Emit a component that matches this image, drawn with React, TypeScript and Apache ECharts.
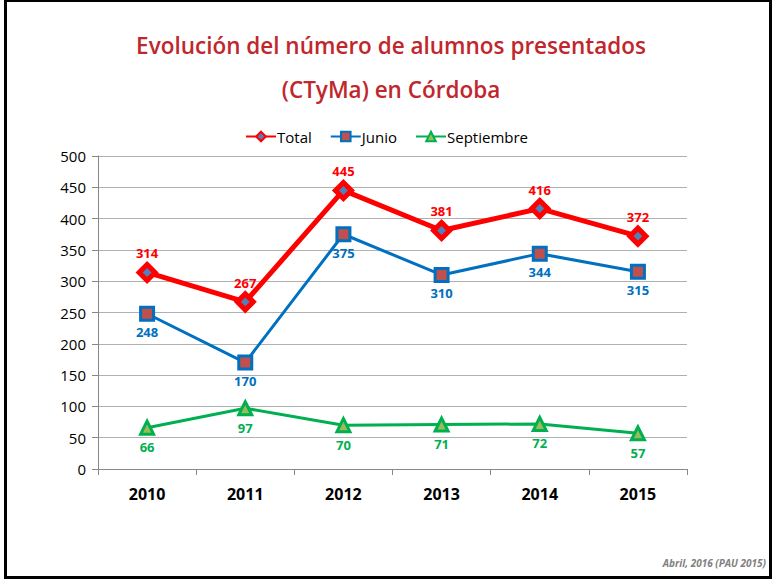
import React, { useEffect, useRef } from "react";
import * as echarts from "echarts";

const years = ["2010", "2011", "2012", "2013", "2014", "2015"];
const total = [314, 267, 445, 381, 416, 372];
const junio = [248, 170, 375, 310, 344, 315];
const septiembre = [66, 97, 70, 71, 72, 57];
const titleLines = ["Evolución del número de alumnos presentados", "(CTyMa) en Córdoba"];
const footnote = "Abril, 2016 (PAU 2015)";

const FONT = "Open Sans, Lato, sans-serif";

export default function App() {
  const ref = useRef<HTMLDivElement>(null);
  useEffect(() => {
    const chart = echarts.init(ref.current!, null, { renderer: "svg" });
    chart.setOption({
      animation: false,
      backgroundColor: "#fff",
      textStyle: { fontFamily: FONT },
      graphic: [
        {
          type: "rect",
          shape: { x: 5.5, y: 0.5, width: 765, height: 577 },
          style: { fill: "none", stroke: "#000", lineWidth: 3 },
          silent: true,
        },
        {
          type: "text",
          x: 391,
          y: 45,
          style: {
            text: titleLines[0],
            fill: "#C0272D",
            font: `600 22.5px ${FONT}`,
            align: "center",
            verticalAlign: "middle",
          },
        },
        {
          type: "text",
          x: 391,
          y: 89,
          style: {
            text: titleLines[1],
            fill: "#C0272D",
            font: `600 22.5px ${FONT}`,
            align: "center",
            verticalAlign: "middle",
          },
        },
        {
          type: "text",
          x: 766,
          y: 563,
          style: {
            text: footnote,
            fill: "#7F7F7F",
            font: `italic bold 10px ${FONT}`,
            align: "right",
            verticalAlign: "middle",
          },
        },
      ],
      legend: {
        top: 124,
        left: "center",
        itemWidth: 30,
        itemHeight: 12,
        itemGap: 18,
        textStyle: { fontSize: 15, color: "#000", fontFamily: FONT, padding: [0, 0, 0, -4] },
        data: ["Total", "Junio", "Septiembre"],
      },
      grid: { left: 98, right: 86, top: 156, bottom: 112 },
      xAxis: {
        type: "category",
        data: years,
        boundaryGap: true,
        axisLine: { lineStyle: { color: "#888", width: 1 } },
        axisTick: { show: true, length: 6, lineStyle: { color: "#888" } },
        axisLabel: { fontSize: 16, fontWeight: "bold", color: "#000", margin: 17 },
      },
      yAxis: {
        type: "value",
        min: 0,
        max: 500,
        interval: 50,
        axisLine: { show: true, lineStyle: { color: "#888" } },
        axisTick: { show: true, length: 6, lineStyle: { color: "#888" } },
        axisLabel: { fontSize: 15, color: "#000", margin: 12 },
        splitLine: { lineStyle: { color: "#B0B0B0", width: 1 } },
      },
      series: [
        {
          name: "Total",
          type: "line",
          data: total,
          symbol: "diamond",
          symbolSize: 16,
          lineStyle: { color: "#FF0000", width: 5 },
          itemStyle: { color: "#4F81BD", borderColor: "#FF0000", borderWidth: 5 },
          label: {
            show: true,
            position: "top",
            distance: 2,
            color: "#FF0000",
            fontWeight: "bold",
            fontSize: 13,
          },
          z: 3,
        },
        {
          name: "Junio",
          type: "line",
          data: junio,
          symbol: "rect",
          symbolSize: 13,
          lineStyle: { color: "#0070C0", width: 3 },
          itemStyle: { color: "#C0504D", borderColor: "#0070C0", borderWidth: 3 },
          label: {
            show: true,
            position: "bottom",
            distance: 4,
            color: "#0070C0",
            fontWeight: "bold",
            fontSize: 13,
          },
          z: 2,
        },
        {
          name: "Septiembre",
          type: "line",
          data: septiembre,
          symbol: "triangle",
          symbolSize: 13,
          lineStyle: { color: "#00B050", width: 3 },
          itemStyle: { color: "#9BBB59", borderColor: "#00B050", borderWidth: 3 },
          label: {
            show: true,
            position: "bottom",
            distance: 5,
            color: "#00B050",
            fontWeight: "bold",
            fontSize: 13,
          },
          z: 2,
        },
      ],
    });
    return () => chart.dispose();
  }, []);
  return <div ref={ref} style={{ width: 773, height: 581, position: "absolute", left: 0, top: 0 }} />;
}
